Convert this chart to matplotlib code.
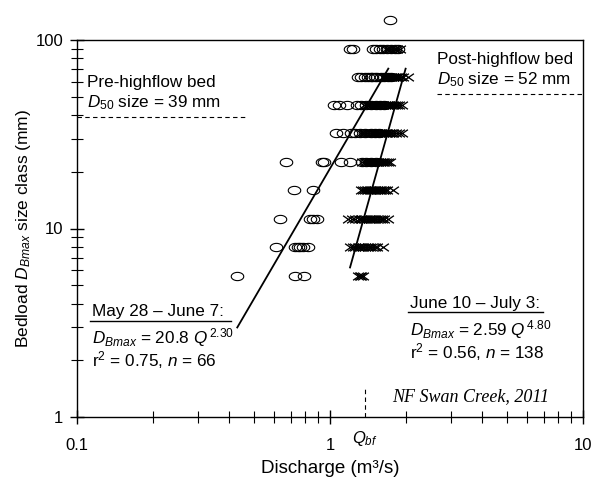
import numpy as np
import matplotlib
matplotlib.use("Agg")
import matplotlib.pyplot as plt
from matplotlib.path import Path
from matplotlib.ticker import FixedLocator, FuncFormatter, LogLocator, NullFormatter

plt.rcParams['font.family'] = ['Liberation Sans', 'DejaVu Sans']
plt.rcParams['mathtext.fontset'] = 'custom'
plt.rcParams['mathtext.rm'] = 'Liberation Sans'
plt.rcParams['mathtext.it'] = 'Liberation Sans:italic'
plt.rcParams['mathtext.bf'] = 'Liberation Sans:bold'

# ---- Data: May 28 - June 7 (circles) ----
early_q = [1.73,
           1.20, 1.23, 1.48, 1.52, 1.57, 1.62, 1.68, 1.74, 1.80, 1.85,
           1.29, 1.33, 1.37, 1.41, 1.45, 1.47, 1.50, 1.54, 1.59, 1.64, 1.70, 1.75,
           1.04, 1.09, 1.17, 1.28, 1.33, 1.39, 1.45, 1.52, 1.58, 1.63,
           1.06, 1.13, 1.21, 1.25, 1.31, 1.38, 1.45, 1.50, 1.56,
           0.67, 0.93, 0.95, 1.11, 1.20, 1.34, 1.39, 1.45, 1.52,
           0.72, 0.86,
           0.635, 0.83, 0.86, 0.885,
           0.61, 0.73, 0.745, 0.76, 0.78, 0.82,
           0.43, 0.73, 0.79]
early_d = [128] * 1 + [90] * 10 + [64] * 12 + [45] * 10 + [32] * 9 + [22.4] * 9 + \
          [16] * 2 + [11.2] * 4 + [8] * 6 + [5.6] * 3

# ---- Data: June 10 - July 3 (crosses) ----
late_q = [1.66, 1.69, 1.71, 1.75, 1.79, 1.81, 1.84, 1.89,
          1.62, 1.65, 1.66, 1.68, 1.71, 1.72, 1.74, 1.77, 1.78, 1.80, 1.83, 1.84, 1.86, 1.90, 1.95, 2.03,
          1.36, 1.40, 1.41, 1.44, 1.47, 1.50, 1.52, 1.53, 1.56, 1.59, 1.60, 1.62, 1.65, 1.68, 1.70, 1.71,
          1.74, 1.77, 1.80, 1.84, 1.88, 1.92,
          1.32, 1.36, 1.38, 1.40, 1.44, 1.47, 1.49, 1.50, 1.53, 1.56, 1.58, 1.59, 1.62, 1.65, 1.66, 1.68,
          1.71, 1.74, 1.78, 1.82, 1.87, 1.92,
          1.34, 1.37, 1.40, 1.43, 1.44, 1.46, 1.49, 1.52, 1.53, 1.55, 1.58, 1.61, 1.62, 1.64, 1.67, 1.70, 1.73,
          1.32, 1.35, 1.38, 1.40, 1.41, 1.44, 1.47, 1.49, 1.50, 1.53, 1.56, 1.58, 1.59, 1.62, 1.65, 1.68, 1.78,
          1.18, 1.22, 1.26, 1.30, 1.33, 1.34, 1.36, 1.39, 1.42, 1.43, 1.45, 1.48, 1.51, 1.54, 1.57, 1.60, 1.64, 1.69,
          1.20, 1.23, 1.26, 1.29, 1.30, 1.32, 1.35, 1.38, 1.41, 1.44, 1.47, 1.50, 1.54, 1.62,
          1.29, 1.31, 1.33, 1.35]
late_d = [90] * 8 + [64] * 16 + [45] * 22 + [32] * 22 + [22.4] * 17 + [16] * 17 + \
         [11.2] * 18 + [8] * 14 + [5.6] * 4

# ---- Fits ----
early_coef, early_exp = 20.8, 2.30
early_range = [0.43, 1.70]
late_coef, late_exp = 2.59, 4.80
late_range = [1.20, 1.99]

pre_d50 = 39
post_d50 = 52
q_bf = 1.37

x_ticks = [0.1, 1, 10]
y_ticks = [1, 10, 100]

fig = plt.figure(figsize=(5.91, 4.78), dpi=100)
ax = fig.add_axes([77 / 591, 1 - 417 / 478, 506 / 591, 377 / 478])
ax.set_xscale('log')
ax.set_yscale('log')
ax.set_xlim(0.1, 10)
ax.set_ylim(1, 100)

# markers
t = np.linspace(0, 2 * np.pi, 60)
ellipse = Path(np.column_stack([0.5 * np.cos(t), 0.33 * np.sin(t)]))
cross = Path([(-0.5, -0.35), (0.5, 0.35), (-0.5, 0.35), (0.5, -0.35)],
             [Path.MOVETO, Path.LINETO, Path.MOVETO, Path.LINETO])

ax.plot(early_q, early_d, linestyle='none', marker=ellipse, markersize=9,
        markerfacecolor='none', markeredgecolor='black', markeredgewidth=0.8,
        clip_on=False, zorder=3)
ax.plot(late_q, late_d, linestyle='none', marker=cross, markersize=7.8,
        markerfacecolor='none', markeredgecolor='black', markeredgewidth=0.95,
        clip_on=False, zorder=3)

qe = np.array(early_range)
ax.plot(qe, early_coef * qe ** early_exp, color='black', lw=1.3, zorder=4)
ql = np.array(late_range)
ax.plot(ql, late_coef * ql ** late_exp, color='black', lw=1.3, zorder=4)

# dashed reference lines
ax.plot([0.1, 0.47], [pre_d50, pre_d50], color='black', lw=0.8, ls=(0, (4, 3)))
ax.plot([2.65, 10], [post_d50, post_d50], color='black', lw=0.8, ls=(0, (4, 3)))
ax.plot([q_bf, q_bf], [1, 1.4], color='black', lw=0.8, ls=(0, (4, 3)))

# ticks
ax.xaxis.set_major_locator(FixedLocator(x_ticks))
ax.yaxis.set_major_locator(FixedLocator(y_ticks))
ax.xaxis.set_minor_locator(LogLocator(base=10, subs=np.arange(2, 10)))
ax.yaxis.set_minor_locator(LogLocator(base=10, subs=np.arange(2, 10)))
ax.xaxis.set_minor_formatter(NullFormatter())
ax.yaxis.set_minor_formatter(NullFormatter())
fmt = FuncFormatter(lambda v, p: f'{v:g}')
ax.xaxis.set_major_formatter(fmt)
ax.yaxis.set_major_formatter(fmt)
ax.tick_params(which='major', direction='inout', length=10, width=1, labelsize=12)
ax.tick_params(which='minor', direction='inout', length=8, width=0.8)
ax.tick_params(axis='x', which='major', pad=10)
ax.tick_params(axis='y', which='major', pad=5)
for s in ax.spines.values():
    s.set_linewidth(1)

ax.set_xlabel('Discharge (m³/s)', fontsize=13.5, labelpad=5)
ax.set_ylabel('Bedload $D_{Bmax}$ size class (mm)', fontsize=12.5, labelpad=2)

fs = 12.3
tr = ax.transAxes
ax.text(0.02, 0.886, 'Pre-highflow bed', transform=tr, fontsize=fs, va='center')
ax.text(0.02, 0.833, r'$\mathit{D}_{\mathit{50}}$ size = 39 mm', transform=tr, fontsize=fs, va='center')
ax.text(0.711, 0.947, 'Post-highflow bed', transform=tr, fontsize=fs, va='center')
ax.text(0.711, 0.894, r'$\mathit{D}_{\mathit{50}}$ size = 52 mm', transform=tr, fontsize=fs, va='center')

ax.text(0.030, 0.279, 'May 28 – June 7:', transform=tr, fontsize=fs, va='center')
ax.plot([0.026, 0.305], [0.255, 0.255], transform=tr, color='black', lw=1)
ax.text(0.030, 0.2096, r'$D_{Bmax}$ = 20.8 $Q^{\,2.30}$', transform=tr, fontsize=fs, va='center')
ax.text(0.030, 0.151, r'r$^2$ = 0.75, $n$ = 66', transform=tr, fontsize=fs, va='center')

ax.text(0.658, 0.302, 'June 10 – July 3:', transform=tr, fontsize=fs, va='center')
ax.plot([0.654, 0.921], [0.2785, 0.2785], transform=tr, color='black', lw=1)
ax.text(0.658, 0.231, r'$D_{Bmax}$ = 2.59 $Q^{\,4.80}$', transform=tr, fontsize=fs, va='center')
ax.text(0.658, 0.172, r'r$^2$ = 0.56, $n$ = 138', transform=tr, fontsize=fs, va='center')

ax.text(0.6225, 0.053, 'NF Swan Creek, 2011', transform=tr, fontsize=13,
        family='Liberation Serif', style='italic', va='center')

ax.text(q_bf, -0.058, '$Q_{bf}$', transform=ax.get_xaxis_transform(),
        fontsize=12, ha='center', va='center')

fig.savefig('out.png', dpi=100)
